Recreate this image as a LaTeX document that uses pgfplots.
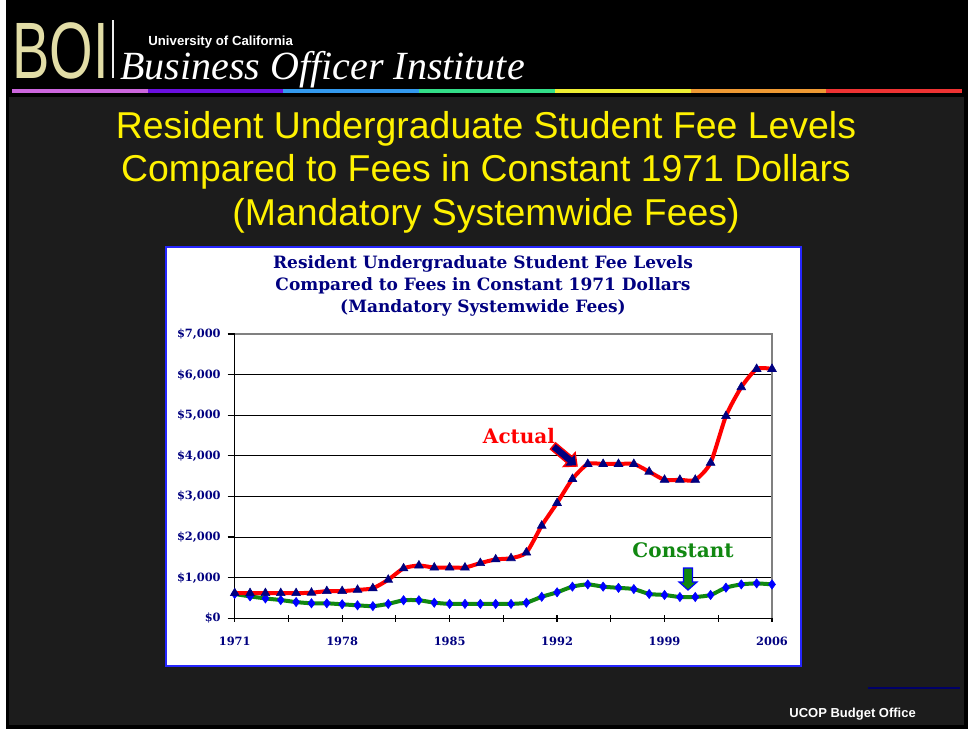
\documentclass[border=0pt]{standalone}
\usepackage{fontspec}
\setmainfont{DejaVu Serif}
\newfontfamily\arialfont{Liberation Sans}
\newfontfamily\logofont{Liberation Serif}
\usepackage{pgfplots}
\pgfplotsset{compat=1.18}

\definecolor{slidebg}{HTML}{1C1C1C}
\definecolor{navy}{HTML}{000080}
\definecolor{fgreen}{HTML}{118811}
\definecolor{boiyellow}{HTML}{E2DDA6}
\definecolor{rb1}{HTML}{CC66DD}
\definecolor{rb2}{HTML}{6A10E0}
\definecolor{rb3}{HTML}{3399EE}
\definecolor{rb4}{HTML}{33DD88}
\definecolor{rb5}{HTML}{EEEE33}
\definecolor{rb6}{HTML}{EE9933}
\definecolor{rb7}{HTML}{EE3333}

% fees in current dollars and in constant 1971 dollars
\pgfplotstableread{
year actual constant
1971 620 600
1972 620 540
1973 620 490
1974 620 450
1975 620 400
1976 630 370
1977 670 370
1978 670 345
1979 700 320
1980 740 300
1981 950 355
1982 1230 445
1983 1300 445
1984 1250 385
1985 1250 355
1986 1250 355
1987 1360 355
1988 1450 355
1989 1480 355
1990 1620 385
1991 2280 530
1992 2840 640
1993 3430 780
1994 3800 835
1995 3800 780
1996 3800 750
1997 3800 720
1998 3610 600
1999 3410 575
2000 3410 525
2001 3410 525
2002 3830 575
2003 4980 755
2004 5690 835
2005 6140 860
2006 6140 835
}\feedata

\begin{document}
\begin{tikzpicture}[x=0.5pt,y=-0.5pt]
% slide background
\fill[white] (0,0) rectangle (968,730);
\fill[black] (6,0) rectangle (968,729);
\fill[slidebg] (9,97) rectangle (964,725);
\foreach \c [count=\i from 0] in {rb1,rb2,rb3,rb4,rb5,rb6,rb7}
  \fill[\c] (12+\i*135.7,89) rectangle (12+\i*135.7+135.7,93);

% header
\node[anchor=base west, text=boiyellow, font=\arialfont\fontsize{40}{40}\selectfont,
  xscale=0.7, inner sep=0] at (12,78) {BOI};
\draw[white!85!gray, line width=0.8pt] (113,20) -- (113,78);
\node[anchor=base west, text=white, font=\arialfont\bfseries\fontsize{6.6}{7}\selectfont,
  inner sep=0] at (148,45) {University of California};
\node[anchor=base west, text=white, font=\logofont\itshape\fontsize{20}{20}\selectfont,
  inner sep=0] at (120,79) {Business Officer Institute};

\node[align=center, text=yellow, font=\arialfont\fontsize{18.7}{21.75}\selectfont]
  at (486,172) {Resident Undergraduate Student Fee Levels\\
  Compared to Fees in Constant 1971 Dollars\\(Mandatory Systemwide Fees)};

% chart panel
\fill[white] (166,247) rectangle (801,666);
\draw[blue!85!white, line width=0.8pt] (166,247) rectangle (801,666);
\node[align=center, text=navy, font=\bfseries\fontsize{8.5}{11}\selectfont]
  at (483,286) {Resident Undergraduate Student Fee Levels\\
  Compared to Fees in Constant 1971 Dollars\\(Mandatory Systemwide Fees)};

\coordinate (axpos) at (234.7,618.3);
\begin{axis}[
  at={(axpos)}, anchor=south west,
  scale only axis, width=268.65pt, height=142.15pt,
  xmin=1971, xmax=2006, ymin=0, ymax=7000,
  axis x line*=bottom, axis y line*=left,
  axis line style={black, line width=0.6pt},
  xtick={1971,1974.5,1978,1981.5,1985,1988.5,1992,1995.5,1999,2002.5,2006},
  xticklabels={1971,,1978,,1985,,1992,,1999,,2006},
  ytick={0,1000,...,7000},
  yticklabels={{\$0},{\$1,000},{\$2,000},{\$3,000},{\$4,000},{\$5,000},{\$6,000},{\$7,000}},
  xtick align=center, ytick align=outside,
  major tick length=3.5pt,
  tick style={black, line width=0.6pt},
  ymajorgrids, major grid style={black, line width=0.5pt},
  ticklabel style={font=\bfseries\fontsize{5.7}{6}\selectfont, text=navy},
  xticklabel style={yshift=-4pt},
  clip=false,
]
\addplot[fgreen, line width=2pt, smooth, tension=0.4,
  mark=diamond*, mark size=2.3pt, mark options={solid, fill=blue, draw=blue, line width=0.3pt}]
  table[x=year, y=constant] {\feedata};
\addplot[red, line width=2pt, smooth, tension=0.4,
  mark=triangle*, mark size=2.5pt, mark options={solid, fill=navy, draw=navy, line width=0.3pt}]
  table[x=year, y=actual] {\feedata};
\draw[gray, line width=0.6pt] (rel axis cs:0,1) -- (rel axis cs:1,1) -- (rel axis cs:1,0);
\end{axis}

% annotations
\node[text=red, font=\bfseries\fontsize{10}{10}\selectfont] at (519,436) {Actual};
\filldraw[fill=navy, draw=red, line width=0.7pt]
  (550.4,449.1) -- (566.7,462.7) -- (563.5,466.5) -- (577,466) -- (575.1,452.7)
  -- (571.9,456.5) -- (555.6,442.9) -- cycle;
\node[text=fgreen, font=\bfseries\fontsize{10}{10}\selectfont] at (683,550) {Constant};
\filldraw[fill=fgreen, draw=blue, line width=0.6pt]
  (683.5,568) -- (692.5,568) -- (692.5,582) -- (697,582) -- (688,590) -- (679,582)
  -- (683.5,582) -- cycle;

% footer
\draw[navy!80!black, line width=0.8pt] (868,688) -- (960,688);
\node[anchor=base west, text=white, font=\arialfont\bfseries\fontsize{6.5}{6.5}\selectfont,
  inner sep=0] at (789,717) {UCOP Budget Office};
\end{tikzpicture}
\end{document}
